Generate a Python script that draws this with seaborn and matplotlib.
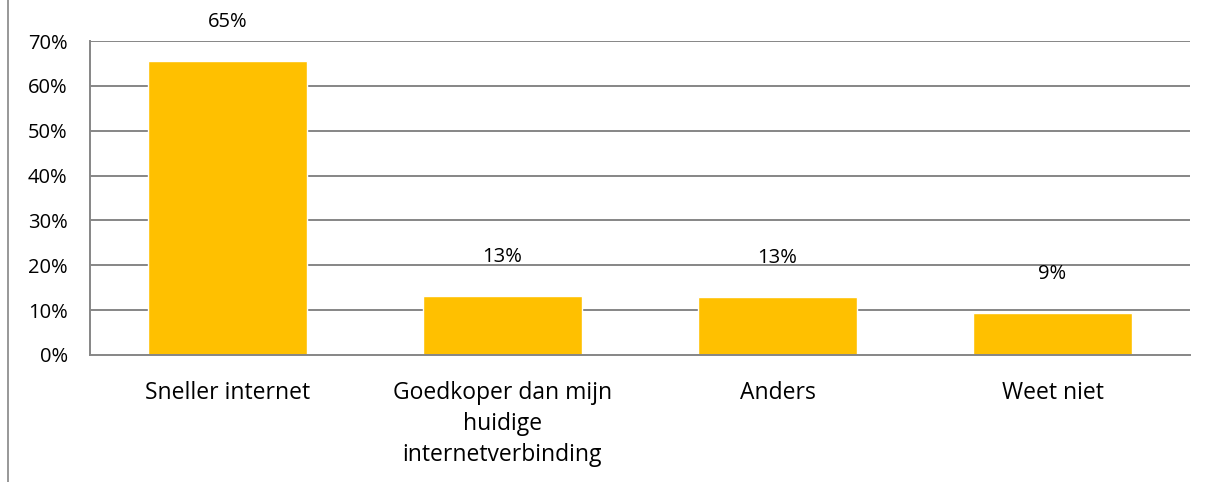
import pandas as pd
import matplotlib
matplotlib.use("Agg")
import matplotlib.pyplot as plt
import seaborn as sns
from matplotlib.lines import Line2D

# chart values (percent)
categories = ["Sneller internet",
              "Goedkoper dan mijn\nhuidige\ninternetverbinding",
              "Anders",
              "Weet niet"]
values = [65.6, 13.2, 13.0, 9.3]
labels = ["65%", "13%", "13%", "9%"]
y_ticks = [0, 10, 20, 30, 40, 50, 60, 70]

df = pd.DataFrame({"Categorie": categories, "Percentage": values})

sns.set_theme(style="white")
plt.rcParams['font.family'] = ['Open Sans', 'DejaVu Sans']

fig = plt.figure(figsize=(12.14, 4.82), dpi=100)
ax = fig.add_axes([0.0741, 0.2635, 0.9061, 0.6514])

grid_col = "#868686"
for t in y_ticks[1:]:
    ax.axhline(t, color=grid_col, lw=1.4, zorder=0)

sns.barplot(data=df, x="Categorie", y="Percentage", color="#FFC000",
            width=0.58, saturation=1, ax=ax, zorder=2)

for i, (v, lab) in enumerate(zip(values, labels)):
    ax.annotate(lab, (i, v), xytext=(0, 21), textcoords="offset points",
                ha="center", va="bottom", fontsize=14.5, color="black",
                annotation_clip=False)

ax.set_ylim(0, 70)
ax.set_xlim(-0.5, len(categories) - 0.5)
ax.set_yticks(y_ticks)
ax.set_yticklabels([f"{t}%" for t in y_ticks], fontsize=14.5)
ax.set_xticks(range(len(categories)))
ax.set_xticklabels(categories, fontsize=16.5, linespacing=1.38)
ax.tick_params(axis="x", pad=19, length=0, colors="black")
ax.tick_params(axis="y", pad=16, length=0, colors="black")
ax.set_xlabel("")
ax.set_ylabel("")

for s in ["top", "right"]:
    ax.spines[s].set_visible(False)
for s in ["left", "bottom"]:
    ax.spines[s].set_color(grid_col)
    ax.spines[s].set_linewidth(1.4)

# chart area border on the left
fig.add_artist(Line2D([8 / 1214, 8 / 1214], [0, 1], transform=fig.transFigure,
                      color=grid_col, lw=1.2))

fig.savefig("out.png", dpi=100)
